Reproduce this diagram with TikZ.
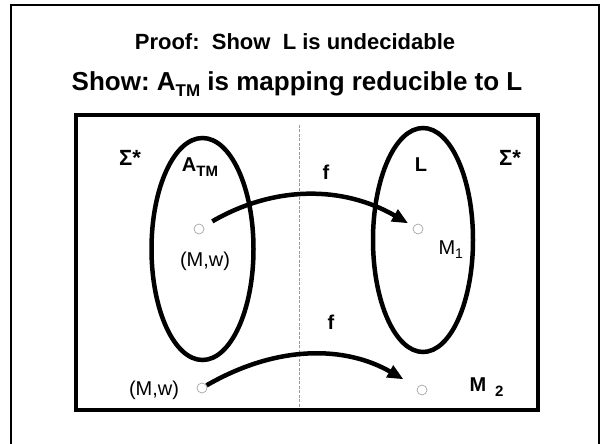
\documentclass[tikz,border=0pt]{standalone}
\usepackage{fontspec}
\setmainfont{Liberation Sans}
\usetikzlibrary{arrows.meta,positioning}
\frenchspacing

\begin{document}
\begin{tikzpicture}[x=1pt,y=1pt,font=\fontsize{20}{24}\selectfont\bfseries,
  dot/.style={circle,draw=black!35,line width=0.7pt,minimum size=10pt,inner sep=0pt},
  setline/.style={line width=4.5pt},
  map/.style={line width=4.5pt,-{Triangle[length=16pt,width=13pt]}},
  plain/.style={font=\fontsize{20}{24}\selectfont\mdseries}]
\useasboundingbox (0,0) rectangle (602,444);
\draw[line width=2.2pt] (11,0)--(11,439)--(599,439)--(599,0);
\node[anchor=base,font=\fontsize{22}{26}\selectfont\bfseries] (proof) at (295,394) {Proof:\ \ Show\ \ L is undecidable};
\node[anchor=base,font=\fontsize{26}{30}\selectfont\bfseries] (claim) at (297,353) {Show: A\raisebox{-6pt}{\fontsize{17}{17}\selectfont TM} is mapping reducible to L};
\draw[setline] (76,34) rectangle (538,329);
\draw[draw=black!40,line width=0.6pt,dash pattern=on 3pt off 1.5pt] (299,319)--(299,36);
\draw[setline] (202.5,195) ellipse[x radius=51,y radius=111];
\draw[setline] (423,204) ellipse[x radius=50,y radius=112];
\node[anchor=base,font=\fontsize{22}{26}\selectfont\bfseries] (sigmaA) at (130,278) {Σ*};
\node[anchor=base,font=\fontsize{22}{26}\selectfont\bfseries] (sigmaL) at (510,278) {Σ*};
\node[anchor=base] (atm) at (200,272) {A\raisebox{-5pt}{\fontsize{15}{15}\selectfont TM}};
\node[anchor=base] (lang) at (421,272) {L};
\node[dot] (mw1) at (199,215) {};
\node[dot] (m1) at (418,215) {};
\node[dot] (mw2) at (202,56) {};
\node[dot] (m2) at (422,54) {};
\node[anchor=base,plain] (mw1lbl) at (205,177) {(M,w)};
\node[anchor=base west,plain] (m1lbl) at (435,189) {M\raisebox{-4pt}{\fontsize{14}{14}\selectfont 1}};
\node[anchor=base,plain] (mw2lbl) at (154,48) {(M,w)};
\node[anchor=base west] (m2lbl) at (466,52) {M\hspace{9pt}\raisebox{-5pt}{\fontsize{15}{15}\selectfont 2}};
\node[anchor=base] (f1) at (326,264) {f};
\node[anchor=base] (f2) at (331,114) {f};
\draw[map,shorten <=10pt,shorten >=6pt] (mw1) to[out=30,in=150] (m1);
\draw[map,shorten >=16pt] (mw2) to[out=30,in=150] (m2);
\end{tikzpicture}
\end{document}
